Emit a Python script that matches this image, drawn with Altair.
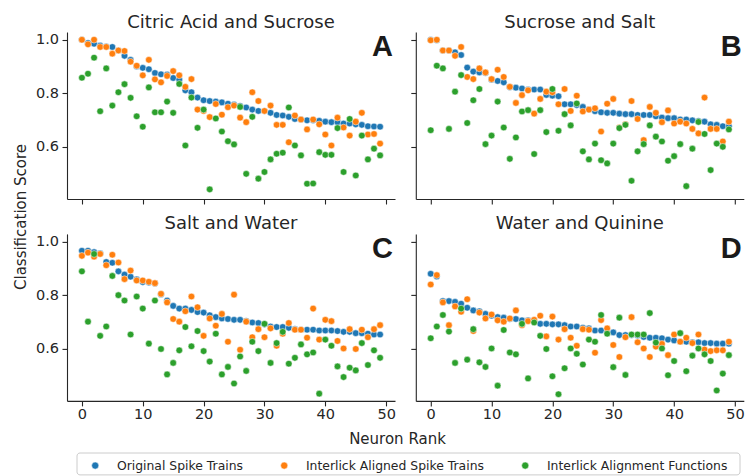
import altair as alt
import pandas as pd

# ---- data -------------------------------------------------------------
ranks = list(range(50))
series_names = ["Original Spike Trains", "Interlick Aligned Spike Trains", "Interlick Alignment Functions"]
series_colors = ["#1f77b4", "#ff7f0e", "#2ca02c"]
panel_titles = ["Citric Acid and Sucrose", "Sucrose and Salt", "Salt and Water", "Water and Quinine"]
panel_letters = ["A", "B", "C", "D"]
x_ticks = [0, 10, 20, 30, 40, 50]
y_ticks = [0.6, 0.8, 1.0]

# A: Citric Acid and Sucrose
a_original = [1.000, 0.988, 0.985, 0.978, 0.975, 0.973, 0.960, 0.940, 0.925, 0.900,
              0.895, 0.890, 0.876, 0.871, 0.870, 0.857, 0.851, 0.811, 0.804, 0.784,
              0.774, 0.771, 0.769, 0.766, 0.761, 0.758, 0.752, 0.747, 0.739, 0.734,
              0.734, 0.727, 0.719, 0.717, 0.712, 0.704, 0.702, 0.699, 0.699, 0.697,
              0.694, 0.692, 0.692, 0.687, 0.687, 0.684, 0.682, 0.677, 0.676, 0.675]
a_aligned = [1.000, 0.983, 1.000, 0.973, 0.973, 0.948, 0.960, 0.958, 0.918, 0.903,
             0.867, 0.925, 0.852, 0.841, 0.865, 0.883, 0.867, 0.824, 0.853, 0.739,
             0.734, 0.711, 0.760, 0.720, 0.748, 0.754, 0.709, 0.692, 0.804, 0.771,
             0.734, 0.754, 0.682, 0.682, 0.617, 0.717, 0.702, 0.665, 0.702, 0.684,
             0.646, 0.605, 0.709, 0.672, 0.642, 0.694, 0.727, 0.646, 0.648, 0.612]
a_functions = [0.858, 0.873, 0.933, 0.733, 0.893, 0.754, 0.804, 0.834, 0.783, 0.714,
               0.675, 0.822, 0.729, 0.729, 0.769, 0.727, 0.835, 0.605, 0.784, 0.671,
               0.739, 0.441, 0.706, 0.657, 0.621, 0.609, 0.749, 0.499, 0.712, 0.481,
               0.506, 0.553, 0.574, 0.578, 0.747, 0.605, 0.568, 0.462, 0.463, 0.580,
               0.570, 0.570, 0.670, 0.506, 0.704, 0.493, 0.642, 0.553, 0.593, 0.568]

# B: Sucrose and Salt
b_original = [1.000, 0.998, 0.960, 0.960, 0.953, 0.943, 0.896, 0.881, 0.878, 0.876,
              0.851, 0.846, 0.841, 0.823, 0.821, 0.818, 0.814, 0.814, 0.814, 0.794,
              0.791, 0.789, 0.759, 0.759, 0.756, 0.749, 0.739, 0.733, 0.729, 0.727,
              0.727, 0.724, 0.722, 0.722, 0.719, 0.719, 0.719, 0.714, 0.709, 0.707,
              0.707, 0.702, 0.702, 0.699, 0.696, 0.694, 0.684, 0.682, 0.677, 0.677]
b_aligned = [0.998, 1.000, 0.960, 0.960, 0.940, 0.973, 0.861, 0.853, 0.893, 0.878,
             0.853, 0.888, 0.861, 0.824, 0.764, 0.793, 0.811, 0.724, 0.779, 0.806,
             0.804, 0.759, 0.816, 0.734, 0.791, 0.732, 0.739, 0.744, 0.657, 0.761,
             0.779, 0.672, 0.684, 0.771, 0.704, 0.625, 0.749, 0.727, 0.692, 0.736,
             0.687, 0.694, 0.687, 0.667, 0.650, 0.784, 0.667, 0.667, 0.620, 0.694]
b_functions = [0.662, 0.903, 0.893, 0.667, 0.806, 0.868, 0.689, 0.774, 0.816, 0.610,
               0.642, 0.769, 0.672, 0.555, 0.635, 0.732, 0.737, 0.573, 0.737, 0.655,
               0.816, 0.660, 0.722, 0.680, 0.762, 0.583, 0.553, 0.612, 0.550, 0.538,
               0.612, 0.670, 0.682, 0.473, 0.583, 0.610, 0.680, 0.638, 0.620, 0.548,
               0.565, 0.610, 0.453, 0.593, 0.693, 0.648, 0.513, 0.612, 0.600, 0.665]

# C: Salt and Water
c_original = [0.966, 0.966, 0.961, 0.956, 0.924, 0.921, 0.889, 0.877, 0.869, 0.859,
              0.849, 0.847, 0.844, 0.803, 0.780, 0.760, 0.750, 0.750, 0.745, 0.737,
              0.735, 0.725, 0.718, 0.713, 0.711, 0.708, 0.708, 0.703, 0.698, 0.696,
              0.691, 0.683, 0.681, 0.681, 0.678, 0.673, 0.671, 0.671, 0.671, 0.668,
              0.668, 0.668, 0.666, 0.663, 0.663, 0.658, 0.658, 0.656, 0.653, 0.653]
c_aligned = [0.947, 0.959, 0.944, 0.954, 0.912, 0.951, 0.922, 0.860, 0.892, 0.855,
             0.855, 0.850, 0.845, 0.805, 0.773, 0.711, 0.701, 0.740, 0.795, 0.755,
             0.648, 0.713, 0.686, 0.730, 0.626, 0.802, 0.596, 0.701, 0.643, 0.673,
             0.643, 0.676, 0.611, 0.656, 0.696, 0.671, 0.671, 0.641, 0.750, 0.634,
             0.708, 0.703, 0.629, 0.601, 0.673, 0.599, 0.671, 0.643, 0.673, 0.688]
c_functions = [0.889, 0.701, 0.954, 0.648, 0.683, 0.872, 0.800, 0.780, 0.653, 0.795,
               0.750, 0.619, 0.780, 0.599, 0.504, 0.547, 0.594, 0.681, 0.609, 0.666,
               0.591, 0.552, 0.656, 0.504, 0.532, 0.470, 0.571, 0.517, 0.626, 0.591,
               0.693, 0.547, 0.621, 0.663, 0.544, 0.566, 0.616, 0.579, 0.586, 0.432,
               0.634, 0.611, 0.534, 0.494, 0.529, 0.519, 0.621, 0.539, 0.594, 0.566]

# D: Water and Quinine
d_original = [0.880, 0.870, 0.778, 0.778, 0.775, 0.768, 0.753, 0.743, 0.740, 0.730,
              0.723, 0.718, 0.716, 0.711, 0.711, 0.706, 0.706, 0.701, 0.693, 0.693,
              0.691, 0.691, 0.688, 0.683, 0.683, 0.678, 0.676, 0.668, 0.668, 0.663,
              0.661, 0.651, 0.651, 0.651, 0.649, 0.644, 0.641, 0.641, 0.639, 0.634,
              0.631, 0.626, 0.626, 0.624, 0.624, 0.621, 0.621, 0.619, 0.619, 0.619]
d_aligned = [0.840, 0.875, 0.773, 0.688, 0.758, 0.738, 0.785, 0.666, 0.735, 0.713,
             0.728, 0.706, 0.701, 0.713, 0.743, 0.688, 0.703, 0.708, 0.723, 0.646,
             0.720, 0.634, 0.673, 0.641, 0.611, 0.673, 0.671, 0.585, 0.707, 0.676,
             0.614, 0.569, 0.643, 0.718, 0.624, 0.601, 0.569, 0.608, 0.618, 0.576,
             0.653, 0.626, 0.641, 0.621, 0.653, 0.597, 0.591, 0.594, 0.594, 0.626]
d_functions = [0.639, 0.683, 0.726, 0.664, 0.547, 0.750, 0.559, 0.673, 0.549, 0.532,
               0.601, 0.462, 0.670, 0.586, 0.579, 0.693, 0.489, 0.698, 0.648, 0.599,
               0.497, 0.430, 0.527, 0.601, 0.581, 0.541, 0.634, 0.626, 0.726, 0.656,
               0.531, 0.716, 0.502, 0.653, 0.653, 0.653, 0.733, 0.623, 0.601, 0.501,
               0.554, 0.658, 0.516, 0.574, 0.601, 0.579, 0.554, 0.444, 0.507, 0.576]

# ---- styling ----------------------------------------------------------
INK = "#262626"
FONT = "DejaVu Sans"
PANEL_W, PANEL_H = 328, 167
X_DOMAIN = [-2.45, 51.45]
Y_DOMAIN = [0.405, 1.029]


def panel_frame(orig, aligned, funcs):
    rows = []
    for z, (name, vals) in enumerate(zip(series_names, [orig, aligned, funcs])):
        for r, v in zip(ranks, vals):
            rows.append({"rank": r, "score": v, "series": name, "z": z * 100 + r})
    return pd.DataFrame(rows)


color_enc = alt.Color(
    "series:N",
    scale=alt.Scale(domain=series_names, range=series_colors),
    legend=alt.Legend(
        title=None, orient="none", legendX=22, legendY=427.2,
        direction="horizontal", symbolType="circle", symbolSize=50,
        symbolStrokeColor="white", symbolStrokeWidth=0.5,
        labelFont=FONT, labelFontSize=12.4, labelColor=INK,
        labelOffset=15.5, columnPadding=35, padding=0, labelLimit=400,
    ),
)


def axis(values, show_labels, fmt=None, pad=3):
    kw = dict(values=values, labels=show_labels, title=None, grid=False,
              domainColor=INK, tickColor=INK, labelColor=INK, domainWidth=1.1,
              tickWidth=1.1, tickSize=5, labelFont=FONT, labelFontSize=14.5,
              labelPadding=pad, labelFlush=False, labelOverlap=False)
    if fmt:
        kw["format"] = fmt
    return alt.Axis(**kw)


def text_layer(label, x, y, **mark_kw):
    return alt.Chart(pd.DataFrame({"t": [label]})).mark_text(**mark_kw).encode(
        x=alt.value(x), y=alt.value(y), text="t:N")


def panel(df, title, letter, first_col, last_row, extras=()):
    pts = alt.Chart(df).mark_circle(size=44, opacity=1, stroke="white", strokeWidth=0.5).encode(
        x=alt.X("rank:Q", scale=alt.Scale(domain=X_DOMAIN, nice=False, zero=False),
                axis=axis(x_ticks, last_row, pad=2)),
        y=alt.Y("score:Q", scale=alt.Scale(domain=Y_DOMAIN, nice=False, zero=False),
                axis=axis(y_ticks, first_col, fmt=".1f", pad=3.5)),
        color=color_enc,
        order=alt.Order("z:Q"),
    )
    ttl = text_layer(title, PANEL_W / 2, -4.5, font=FONT, fontSize=18, color=INK,
                     align="center", baseline="alphabetic")
    tag = text_layer(letter, 326, 24, font="Liberation Sans", fontWeight="bold",
                     fontSize=29, color="#1a1a1a", align="right", baseline="alphabetic")
    return alt.layer(pts, ttl, tag, *extras).properties(width=PANEL_W, height=PANEL_H)


# canvas extent and shared axis titles
canvas = alt.Chart(pd.DataFrame({"k": [0]})).mark_rect(opacity=0).encode(
    x=alt.value(-67), x2=alt.value(685.5), y=alt.value(-32), y2=alt.value(443.5))
y_title = text_layer("Classification Score", -41, 185, font=FONT, fontSize=15, color=INK,
                     align="center", baseline="alphabetic", angle=270)
x_title = text_layer("Neuron Rank", 330.5, 210, font=FONT, fontSize=15, color=INK,
                     align="center", baseline="alphabetic")
legend_frame = alt.Chart(pd.DataFrame({"k": [0]})).mark_rect(
    fillOpacity=0, stroke="#cccccc", strokeWidth=1, cornerRadius=3).encode(
    x=alt.value(10), x2=alt.value(673), y=alt.value(219.1), y2=alt.value(241))

pa = panel(panel_frame(a_original, a_aligned, a_functions), panel_titles[0], panel_letters[0],
           True, False, extras=(canvas, y_title))
pb = panel(panel_frame(b_original, b_aligned, b_functions), panel_titles[1], panel_letters[1],
           False, False)
pc = panel(panel_frame(c_original, c_aligned, c_functions), panel_titles[2], panel_letters[2],
           True, True, extras=(x_title, legend_frame))
pd_ = panel(panel_frame(d_original, d_aligned, d_functions), panel_titles[3], panel_letters[3],
            False, True)

chart = alt.concat(
    pa, pb, pc, pd_, columns=2, spacing={"row": 34.9, "column": 20.8}, bounds="flush"
).properties(padding=0, background="white").configure_view(stroke=None)

chart.save("out.html", embed_options={"renderer": "svg", "actions": False})
